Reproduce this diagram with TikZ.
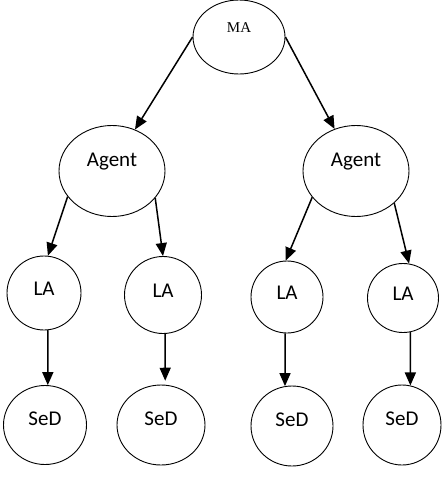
\documentclass[tikz,border=0pt]{standalone}
\usepackage{fontspec}
\setmainfont{Liberation Serif}
\setsansfont{Carlito}
\usepackage{tikz}
\usetikzlibrary{arrows.meta, shapes.geometric}

\begin{document}
\begin{tikzpicture}[
x=1pt, y=-1pt,
ell/.style={draw, ellipse, inner sep=0pt, line width=0.9pt, font=\sffamily\fontsize{21}{21}\selectfont, text height=13pt, text depth=13pt},
wh/.style 2 args={minimum width=#1, minimum height=#2},
arr/.style={-{Triangle[length=13pt, width=11pt]}, line width=1.5pt}
]
\useasboundingbox (0,0) rectangle (443,479);
% master agent
\node[ell, wh={92pt}{74pt}, font=\rmfamily\fontsize{15}{15}\selectfont, text height=10pt, text depth=20pt] (ma) at (239,37) {MA};
% agents
\node[ell, wh={106pt}{91pt}, text depth=23pt] (agL) at (112,171) {Agent};
\node[ell, wh={106pt}{91pt}, text depth=23pt] (agR) at (356,171) {Agent};
% local agents
\node[ell, wh={74pt}{74pt}, text depth=9pt] (la1) at (44,293) {LA};
\node[ell, wh={77pt}{77pt}, text depth=9pt] (la2) at (163,295) {LA};
\node[ell, wh={72pt}{72pt}, text depth=9pt] (la3) at (287,297) {LA};
\node[ell, wh={71pt}{69pt}, text depth=9pt] (la4) at (403,298) {LA};
% servers
\node[ell, wh={83pt}{79pt}] (sed1) at (45,425) {SeD};
\node[ell, wh={88pt}{80pt}] (sed2) at (161,425) {SeD};
\node[ell, wh={82pt}{80pt}] (sed3) at (292,426) {SeD};
\node[ell, wh={78pt}{80pt}] (sed4) at (402,425) {SeD};

\draw[arr] (ma.180) -- (agL.61);
\draw[arr] (ma.0) -- (agR.117);
\draw[arr] (agL.210) -- (la1.84);
\draw[arr] (agL.328) -- (la2.90);
\draw[arr] (agR.211) -- (la3.92);
\draw[arr] (agR.320) -- (la4.80);
\draw[arr] (la1.276) -- (sed1.86);
\draw[arr, shorten >=4pt] (la2.273) -- (sed2.84);
\draw[arr] (la3.267) -- (sed3.100);
\draw[arr] (la4.282) -- (sed4.78);
\end{tikzpicture}
\end{document}
